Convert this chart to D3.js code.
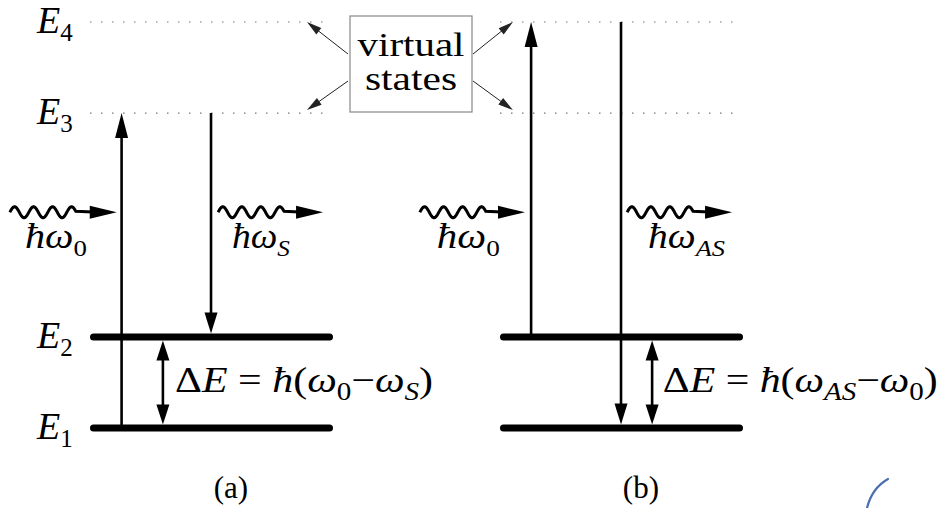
<!DOCTYPE html>
<html>
<head>
<meta charset="utf-8">
<script src="https://cdn.jsdelivr.net/npm/d3@7"></script>
<style>
  body { margin: 0; background: #fff; }
  svg { display: block; }
  text { fill: #000; white-space: pre; }
</style>
</head>
<body>
<div id="chart"></div>
<script>
'use strict';

// Energy levels, E1 taken as zero (E2-E1 is the same gap as E4-E3)
const levelNames = ["E1", "E2", "E3", "E4"];
const levelEnergy = [0, 1, 3.46, 4.46];
const realLevels = ["E1", "E2"];      // solid, thick
const virtualLevels = ["E3", "E4"];   // dotted

// The two panels: (a) Stokes, (b) anti-Stokes
const panelNames = ["a", "b"];
const panelCaptions = ["(a)", "(b)"];

// Absorption (up) and emission (down) transitions, position along the level line (0..1)
const upFrom = ["E1", "E2"];
const upTo = ["E3", "E4"];
const upPos = [0.13, 0.128];
const downFrom = ["E3", "E4"];
const downTo = ["E2", "E1"];
const downPos = [0.498, 0.498];
const gapPos = [0.30, 0.626];

// Photons: wavy arrows, energy height, start/end along level line, labels
const photonLevel = 2.37;
const photonInStart = [-0.33, -0.33];
const photonInEnd = [0.11, 0.103];
const photonOutStart = [0.527, 0.523];
const photonOutEnd = [0.959, 0.955];
const photonInSub = ["0", "0"];
const photonOutSub = ["S", "AS"];
const photonInLabelPos = [-0.268, -0.26];
const photonOutLabelPos = [0.584, 0.609];
const photonInLabelLen = [62, 63];
const photonOutLabelLen = [58, 77];

// Energy gap labels
const gapLabelPos = [0.35, 0.67];
const gapLabelLen = [258, 275];
const gapFirst = [["0", false], ["AS", true]];
const gapSecond = [["S", true], ["0", false]];

// "virtual states" call-out
const noteLines = ["virtual", "states"];
const noteTargets = [["a", "E4", 0.893], ["a", "E3", 0.893], ["b", "E4", 0.053], ["b", "E3", 0.053]];

const width = 942;
const height = 508;
const serif = "'Liberation Serif', 'DejaVu Serif', 'Times New Roman', serif";

const svg = d3.select("#chart").append("svg")
    .attr("width", width)
    .attr("height", height)
    .attr("viewBox", "0 0 " + width + " " + height)
    .attr("font-family", serif);

// Scales
const energy = d3.scaleOrdinal().domain(levelNames).range(levelEnergy);
const y = d3.scaleLinear().domain([0, 4.46]).range([428, 22]);
const panelX = d3.scaleOrdinal().domain(panelNames).range([90, 500]);
const x = d3.scaleLinear().domain([0, 1]).range([0, 243]);
const levelY = name => y(energy(name));

const thick = 7;

// arrow head polygon pointing from (x1,y1) to (x2,y2)
function headPath(x1, y1, x2, y2, len, half) {
  const a = Math.atan2(y2 - y1, x2 - x1);
  const bx = x2 - len * Math.cos(a), by = y2 - len * Math.sin(a);
  const nx = -Math.sin(a) * half, ny = Math.cos(a) * half;
  return `M${x2},${y2}L${bx + nx},${by + ny}L${bx - nx},${by - ny}Z`;
}

function arrow(g, x1, y1, x2, y2, opts) {
  const o = Object.assign({len: 23, half: 6.5, width: 2.6, color: "#000", both: false}, opts);
  const a = Math.atan2(y2 - y1, x2 - x1);
  const trim = o.len * 0.6;
  g.append("line")
      .attr("x1", o.both ? x1 + trim * Math.cos(a) : x1)
      .attr("y1", o.both ? y1 + trim * Math.sin(a) : y1)
      .attr("x2", x2 - trim * Math.cos(a))
      .attr("y2", y2 - trim * Math.sin(a))
      .attr("stroke", o.color)
      .attr("stroke-width", o.width);
  g.append("path").attr("d", headPath(x1, y1, x2, y2, o.len, o.half)).attr("fill", o.color);
  if (o.both) g.append("path").attr("d", headPath(x2, y2, x1, y1, o.len, o.half)).attr("fill", o.color);
}

// rich text: parts = [text, italic, subscript]; len stretches it to the drawn width
function rich(g, px, py, parts, size, subSize, len) {
  const t = g.append("text")
      .attr("x", px)
      .attr("y", py)
      .attr("font-family", serif)
      .style("font-size", size + "px");
  if (len) t.attr("textLength", len).attr("lengthAdjust", "spacingAndGlyphs");
  let shifted = false;
  parts.forEach(([s, it, sub]) => {
    const span = t.append("tspan").text(s)
        .style("font-style", it ? "italic" : "normal")
        .style("font-size", (sub ? subSize : size) + "px");
    if (sub && !shifted) { span.attr("dy", 8); shifted = true; }
    else if (!sub && shifted) { span.attr("dy", -8); shifted = false; }
  });
  return t;
}

// wavy photon arrow
function photon(g, x1, x2, cy) {
  const waveLen = 66, period = 19, amp = 5.5;
  const pts = d3.range(0, waveLen + 0.5, 0.5).map(d => [x1 + d, cy - amp * Math.sin(2 * Math.PI * d / period)]);
  pts.push([x2 - 18, cy]);
  g.append("path")
      .attr("d", d3.line()(pts))
      .attr("fill", "none")
      .attr("stroke", "#000")
      .attr("stroke-width", 3);
  g.append("path").attr("d", headPath(x1, cy, x2, cy, 27, 6.5)).attr("fill", "#000");
}

panelNames.forEach((p, i) => {
  const g = svg.append("g").attr("transform", `translate(${panelX(p)},0)`);

  // virtual levels (dotted)
  g.selectAll(".virtual")
    .data(virtualLevels)
    .join("line")
      .attr("class", "virtual")
      .attr("x1", x(0))
      .attr("x2", x(0.975))
      .attr("y1", d => levelY(d))
      .attr("y2", d => levelY(d))
      .attr("stroke", "#777")
      .attr("stroke-width", 1.2)
      .attr("stroke-dasharray", "1.5,9.5");

  // real levels (thick)
  g.selectAll(".real")
    .data(realLevels)
    .join("line")
      .attr("class", "real")
      .attr("x1", x(0) + thick / 2)
      .attr("x2", x(1) - thick / 2)
      .attr("y1", d => levelY(d))
      .attr("y2", d => levelY(d))
      .attr("stroke", "#000")
      .attr("stroke-width", thick)
      .attr("stroke-linecap", "round");

  // absorption
  arrow(g, x(upPos[i]), levelY(upFrom[i]), x(upPos[i]), levelY(upTo[i]), {len: 25});
  // emission, lands on top of the thick level
  arrow(g, x(downPos[i]), levelY(downFrom[i]), x(downPos[i]), levelY(downTo[i]) - thick / 2, {len: 21});
  // energy gap double arrow
  arrow(g, x(gapPos[i]), levelY("E2") + thick / 2, x(gapPos[i]), levelY("E1") - thick / 2, {len: 20, both: true});

  // photons
  const py = y(photonLevel);
  photon(g, x(photonInStart[i]), x(photonInEnd[i]), py);
  photon(g, x(photonOutStart[i]), x(photonOutEnd[i]), py);
  rich(g, x(photonInLabelPos[i]), py + 36, [["\u0127", true], ["\u03C9", true], [photonInSub[i], false, true]], 36, 24, photonInLabelLen[i]);
  rich(g, x(photonOutLabelPos[i]), py + 36, [["\u0127", true], ["\u03C9", true], [photonOutSub[i], true, true]], 36, 24, photonOutLabelLen[i]);

  // gap label
  const gy = (levelY("E1") + levelY("E2")) / 2 + 10;
  rich(g, x(gapLabelPos[i]), gy, [
    ["\u0394", false], ["E", true], [" = ", false], ["\u0127", true], ["(", false],
    ["\u03C9", true], [gapFirst[i][0], gapFirst[i][1], true], ["\u2212", false],
    ["\u03C9", true], [gapSecond[i][0], gapSecond[i][1], true], [")", false]
  ], 36, 25, gapLabelLen[i]);

  // caption
  g.append("text")
      .attr("x", x(0.58))
      .attr("y", 498)
      .attr("text-anchor", "middle")
      .attr("font-family", serif)
      .style("font-size", "31px")
      .text(panelCaptions[i]);
});

// level names on the left of panel (a)
levelNames.forEach(name => {
  rich(svg, 37, levelY(name) + 11, [["E", true], [name.slice(1), false, true]], 38, 25);
});

// virtual states note
const box = {x0: 350, x1: 472, y0: 16, y1: 112};
svg.append("rect")
    .attr("x", box.x0)
    .attr("y", box.y0)
    .attr("width", box.x1 - box.x0)
    .attr("height", box.y1 - box.y0)
    .attr("fill", "#fff")
    .attr("stroke", "#888")
    .attr("stroke-width", 1.2);

svg.selectAll(".note")
  .data(noteLines)
  .join("text")
    .attr("class", "note")
    .attr("x", (box.x0 + box.x1) / 2)
    .attr("y", (d, i) => 56 + i * 34)
    .attr("text-anchor", "middle")
    .attr("textLength", (d, i) => i ? 92 : 107)
    .attr("lengthAdjust", "spacingAndGlyphs")
    .attr("font-family", serif)
    .style("font-size", "34px")
    .text(d => d);

noteTargets.forEach(([p, lev, pos]) => {
  const tx = panelX(p) + x(pos);
  const ty = levelY(lev) + (lev === "E4" ? 0 : -3);
  const sx = p === "a" ? box.x0 - 2 : box.x1 + 1;
  const sy = lev === "E4" ? 54 : 81;
  arrow(svg, sx, sy, tx, ty, {len: 15, half: 4, width: 1, color: "#222"});
});

// stray blue stroke at the bottom right of the scan
svg.append("path")
    .attr("d", "M867,508 Q872,488 888,479")
    .attr("fill", "none")
    .attr("stroke", "#4a6fb0")
    .attr("stroke-width", 2.2)
    .attr("stroke-linecap", "round");
</script>
</body>
</html>
